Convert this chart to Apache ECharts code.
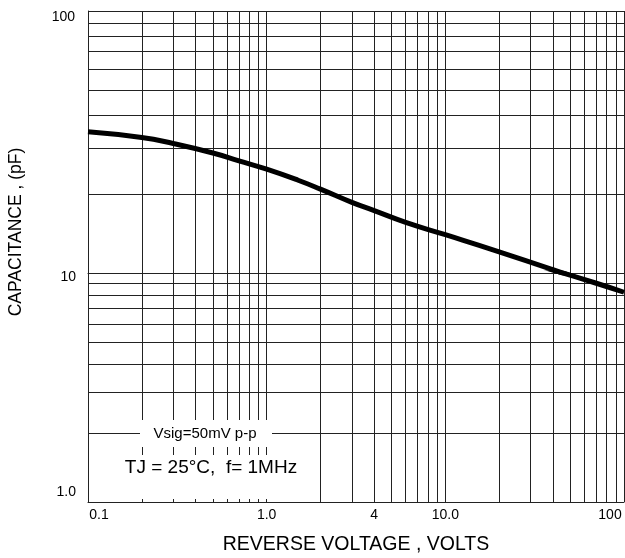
<!DOCTYPE html>
<html>
    <head>
        <meta charset="utf-8" />
        <title>Capacitance vs Reverse Voltage</title>
        <script src="https://cdn.jsdelivr.net/npm/echarts@6/dist/echarts.min.js"></script>
        <style>
            html, body { margin: 0; padding: 0; background: #fff; }
        </style>
    </head>
    <body>
        <div id="chart" style="width: 625px; height: 558px"></div>
        <script>
            // curve (V, pF)
            const voltage = [0.1, 0.2, 0.3, 0.5, 0.7, 1, 1.5, 2, 3, 4, 6, 10, 20, 40, 70, 100];
            const capacitance = [34.6, 32.9, 31.2, 28.7, 26.8, 24.9, 22.6, 20.9, 18.6, 17.3, 15.6, 14.0, 12.05, 10.3, 9.02, 8.24];

            // log grid lines
            const xGrid = [0.1, 0.2, 0.3, 0.4, 0.5, 0.6, 0.7, 0.8, 0.9,
                1, 2, 3, 4, 5, 6, 7, 8, 9,
                10, 20, 30, 40, 50, 60, 70, 80, 90, 100];
            const yGridTop = [10, 20, 30, 40, 50, 60, 70, 80, 90, 100];
            const yGridBottom = [1, 2, 3, 4, 5, 6, 7, 8, 9, 10];

            // tick labels
            const xLabelValues = [0.1, 1, 4, 10, 100];
            const xLabelTexts = ["0.1", "1.0", "4", "10.0", "100"];
            const yLabelTopValues = [100];
            const yLabelTopTexts = ["100"];
            const yLabelBottomValues = [1, 10];
            const yLabelBottomTexts = ["1.0", "10"];

            const font = "'Liberation Sans', Arial, sans-serif";
            const gridColor = "#222";

            function labelFor(values, texts, v) {
                const i = values.findIndex((t) => Math.abs(t - v) <= t * 1e-6);
                return i < 0 ? "" : texts[i];
            }

            const points = voltage.map((v, i) => [v, capacitance[i]]);

            const chart = echarts.init(document.getElementById("chart"));

            const splitLine = {show: true, lineStyle: {color: gridColor, width: 1}};
            const axisLine = {show: true, lineStyle: {color: gridColor, width: 1}};
            const labelStyle = {fontFamily: font, fontSize: 14, color: "#000"};

            const option = {
                animation: false,
                backgroundColor: "#fff",
                grid: [
                    {left: 88, width: 536, top: 11, height: 262},
                    {left: 88, width: 536, top: 273, height: 229},
                ],
                xAxis: [
                    {
                        gridIndex: 0,
                        type: "log",
                        logBase: 10,
                        min: 0.1,
                        max: 100,
                        axisLine: axisLine,
                        axisTick: {show: false, customValues: xGrid},
                        axisLabel: {show: false},
                        splitLine: splitLine,
                    },
                    {
                        gridIndex: 1,
                        type: "log",
                        logBase: 10,
                        min: 0.1,
                        max: 100,
                        name: "REVERSE VOLTAGE , VOLTS",
                        nameLocation: "middle",
                        nameGap: 33,
                        nameTextStyle: {fontFamily: font, fontSize: 19.5, color: "#000"},
                        axisLine: axisLine,
                        axisTick: {show: false, customValues: xGrid},
                        axisLabel: Object.assign({}, labelStyle, {
                            customValues: xLabelValues,
                            margin: 6,
                            formatter: function (v) {
                                const t = labelFor(xLabelValues, xLabelTexts, v);
                                if (t === "0.1") return "{first|0.1}";
                                if (t === "100") return "{last|100}";
                                return t;
                            },
                            rich: {
                                first: Object.assign({padding: [0, 0, 0, 22]}, labelStyle),
                                last: Object.assign({padding: [0, 28, 0, 0]}, labelStyle),
                            },
                        }),
                        splitLine: splitLine,
                    },
                ],
                yAxis: [
                    {
                        gridIndex: 0,
                        type: "log",
                        logBase: 10,
                        min: 10,
                        max: 100,
                        axisLine: axisLine,
                        axisTick: {show: false, customValues: yGridTop},
                        axisLabel: Object.assign({}, labelStyle, {
                            customValues: yLabelTopValues,
                            margin: 13,
                            formatter: function (v) {
                                return "{top|" + labelFor(yLabelTopValues, yLabelTopTexts, v) + "}";
                            },
                            rich: {
                                top: Object.assign({padding: [12, 0, 0, 0]}, labelStyle),
                            },
                        }),
                        splitLine: splitLine,
                    },
                    {
                        gridIndex: 1,
                        type: "log",
                        logBase: 10,
                        min: 1,
                        max: 10,
                        axisLine: axisLine,
                        axisTick: {show: false, customValues: yGridBottom},
                        axisLabel: Object.assign({}, labelStyle, {
                            customValues: yLabelBottomValues,
                            margin: 12,
                            formatter: function (v) {
                                const t = labelFor(yLabelBottomValues, yLabelBottomTexts, v);
                                return t === "1.0" ? "{low|1.0}" : "{high|" + t + "}";
                            },
                            rich: {
                                low: Object.assign({padding: [0, 0, 20, 0]}, labelStyle),
                                high: Object.assign({padding: [8, 0, 0, 0]}, labelStyle),
                            },
                        }),
                        splitLine: splitLine,
                    },
                ],
                graphic: [
                    {
                        type: "text",
                        x: 16.5,
                        y: 232,
                        rotation: Math.PI / 2,
                        style: {
                            text: "CAPACITANCE , (pF)",
                            fontFamily: font,
                            fontSize: 17.5,
                            fill: "#000",
                            align: "center",
                            verticalAlign: "middle",
                        },
                    },
                    {
                        type: "rect",
                        z: 10,
                        shape: {x: 140, y: 420, width: 132, height: 27},
                        style: {fill: "#fff"},
                    },
                    {
                        type: "rect",
                        z: 10,
                        shape: {x: 118, y: 455, width: 184, height: 44},
                        style: {fill: "#fff"},
                    },
                    {
                        type: "text",
                        z: 11,
                        x: 205,
                        y: 434,
                        style: {
                            text: "Vsig=50mV p-p",
                            fontFamily: font,
                            fontSize: 15,
                            fill: "#000",
                            align: "center",
                            verticalAlign: "middle",
                        },
                    },
                    {
                        type: "text",
                        z: 11,
                        x: 211,
                        y: 468,
                        style: {
                            text: "TJ = 25°C,  f= 1MHz",
                            fontFamily: font,
                            fontSize: 19,
                            fill: "#000",
                            align: "center",
                            verticalAlign: "middle",
                        },
                    },
                ],
                series: [0, 1].map((k) => ({
                    type: "line",
                    xAxisIndex: k,
                    yAxisIndex: k,
                    data: points,
                    smooth: true,
                    symbol: "none",
                    clip: true,
                    lineStyle: {color: "#000", width: 5},
                })),
            };

            chart.setOption(option);
        </script>
    </body>
</html>
